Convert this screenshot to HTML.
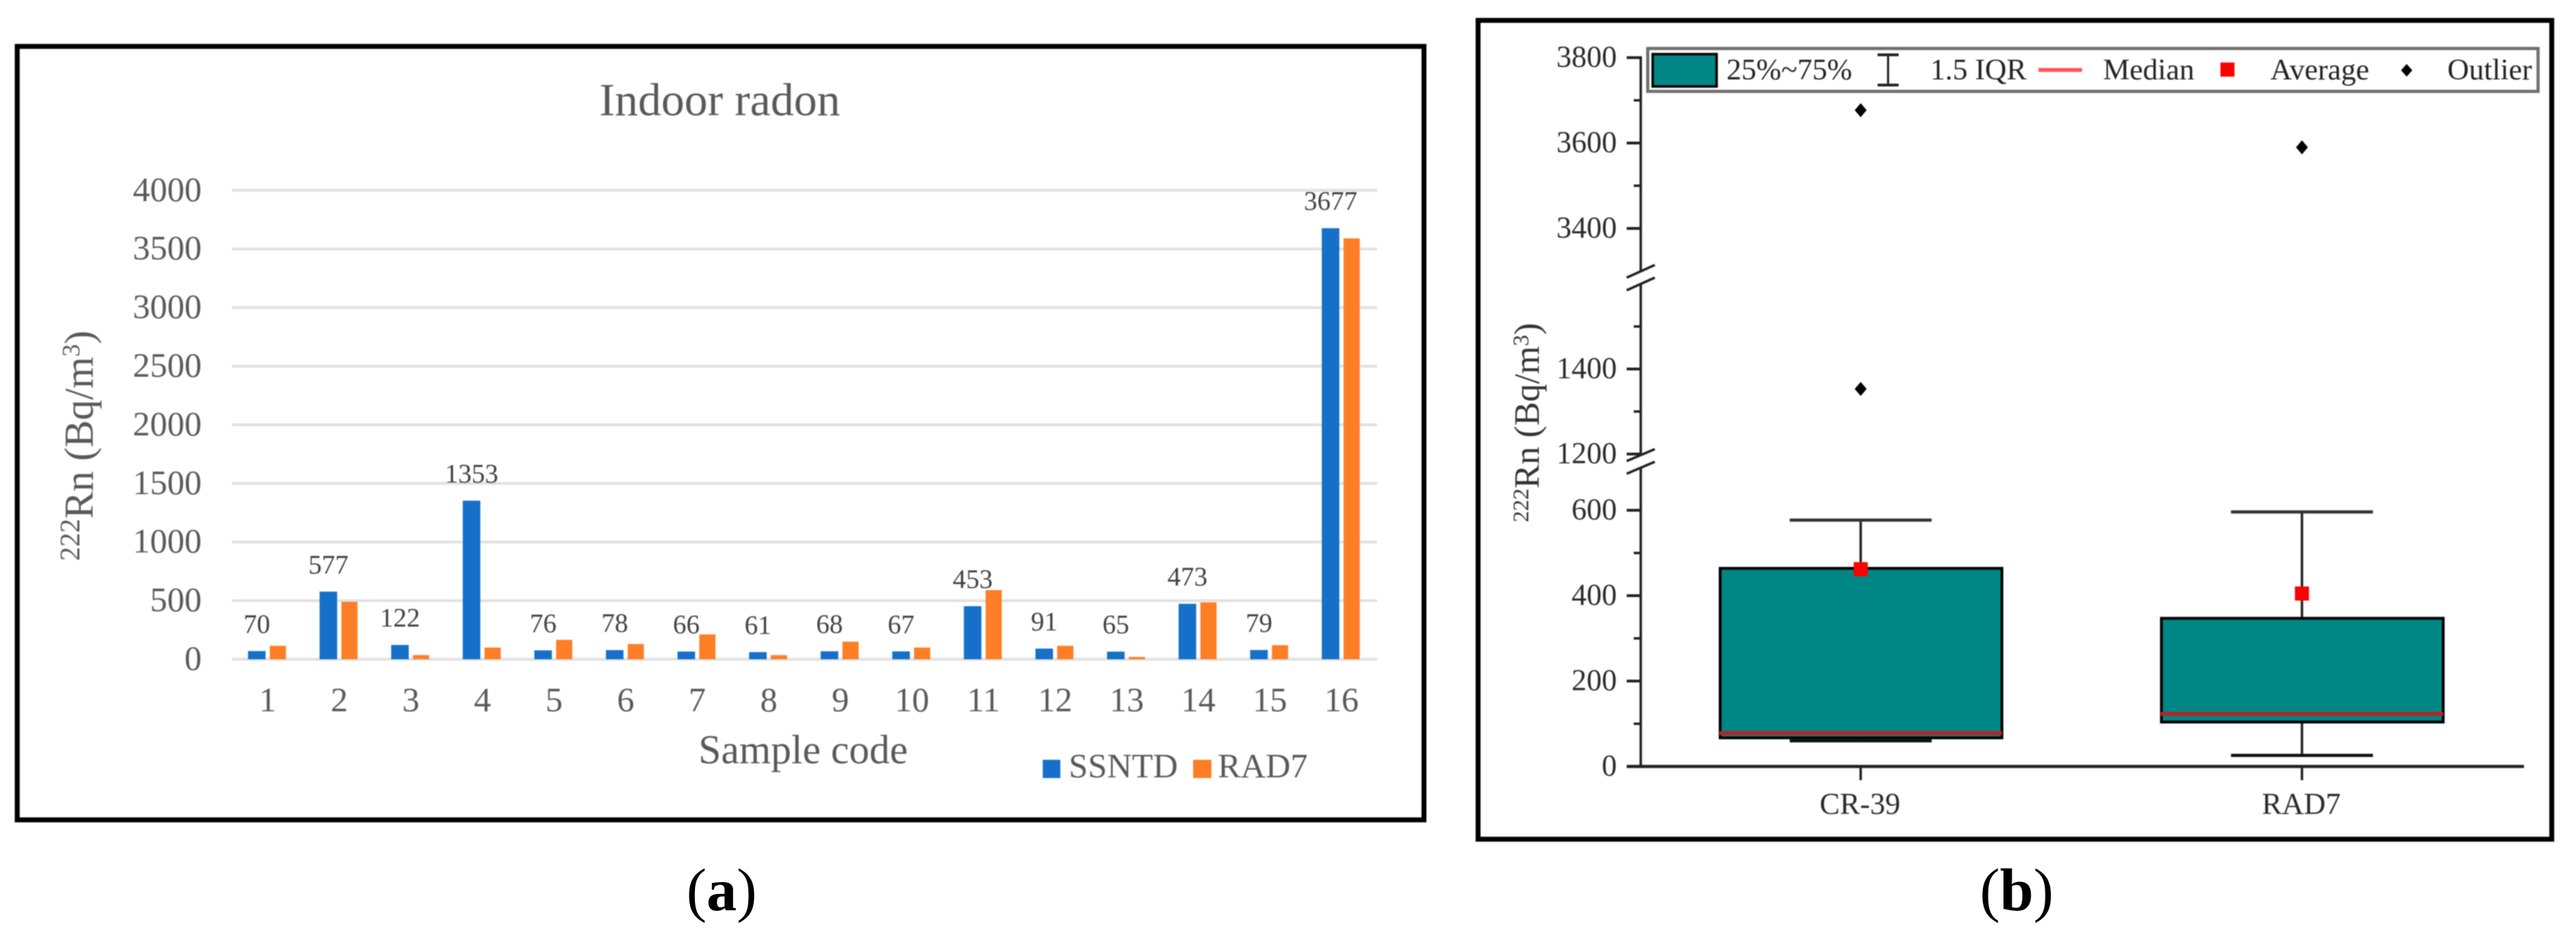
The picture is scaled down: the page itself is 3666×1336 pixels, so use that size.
<!DOCTYPE html>
<html lang="en">
<head>
<meta charset="utf-8">
<title>Indoor radon charts</title>
<style>
  html, body { margin: 0; padding: 0; background: #fff; }
  svg { display: block; }
  #soft { filter: blur(0.8px); }
  text { font-family: "Liberation Serif", serif; }
</style>
</head>
<body>
<svg id="fig" xmlns="http://www.w3.org/2000/svg" width="3666" height="1336" viewBox="0 0 3666 1336">
  <rect x="0" y="0" width="3666" height="1336" fill="#fff"/>
  <g id="soft">
  <rect x="0" y="0" width="3666" height="1336" fill="#fff"/>

  <!-- Panel a -->
  <rect x="24.5" y="66" width="2002" height="1100.5" fill="#fff" stroke="#000" stroke-width="7"/>
  <text x="853" y="164" font-size="66" fill="#595959">Indoor radon</text>
  <g id="a-grid"></g>
  <g id="a-bars"></g>
  <g id="a-labels"></g>
  <g id="a-xticks"></g>
  <text x="994" y="1086" font-size="58" fill="#595959">Sample code</text>
  <text transform="translate(132,798) rotate(-90)" font-size="58" fill="#595959"><tspan font-size="40" dy="-19">222</tspan><tspan dy="19">Rn (Bq/m</tspan><tspan font-size="36" dy="-19">3</tspan><tspan dy="19">)</tspan></text>
  <g>
    <rect x="1484" y="1081" width="25" height="26" fill="#1670c9"/>
    <text x="1521" y="1106" font-size="49" fill="#595959">SSNTD</text>
    <rect x="1698" y="1081" width="26" height="26" fill="#fd7e25"/>
    <text x="1733" y="1106" font-size="49" fill="#595959">RAD7</text>
  </g>

  <!-- Panel b -->
  <rect x="2103.5" y="29" width="1528" height="1165" fill="#fff" stroke="#000" stroke-width="7"/>
  <g id="b-axis"></g>
  <g id="b-boxes"></g>
  <text transform="translate(2190,743) rotate(-90)" font-size="51" fill="#333"><tspan font-size="32" dy="-15">222</tspan><tspan dy="15">Rn (Bq/m</tspan><tspan font-size="32" dy="-15">3</tspan><tspan dy="15">)</tspan></text>

  <g>
    <rect x="2345" y="69" width="1267" height="61" fill="#fff" stroke="#6e6e6e" stroke-width="4.5"/>
    <rect x="2352" y="77" width="91" height="46" fill="#008785" stroke="#000" stroke-width="3.5"/>
    <text x="2457" y="113" font-size="42.5" fill="#222">25%~75%</text>
    <g stroke="#222" fill="none">
      <line x1="2687" y1="78" x2="2687" y2="121" stroke-width="3"/>
      <line x1="2672" y1="78" x2="2702" y2="78" stroke-width="4"/>
      <line x1="2672" y1="121" x2="2702" y2="121" stroke-width="4"/>
    </g>
    <text x="2747" y="113" font-size="42.5" fill="#222">1.5 IQR</text>
    <line x1="2901" y1="99.5" x2="2963" y2="99.5" stroke="#ff5257" stroke-width="5.5"/>
    <text x="2993" y="113" font-size="42.5" fill="#222">Median</text>
    <rect x="3160" y="89" width="20" height="20" fill="#f00"/>
    <text x="3231" y="113" font-size="42.5" fill="#222">Average</text>
    <path d="M3425 91 L3433 100 L3425 109 L3417 100 Z" fill="#000"/>
    <text x="3483" y="113" font-size="42.5" fill="#222">Outlier</text>
  </g>
  </g>

  <text x="1027" y="1295" font-size="86" text-anchor="middle" fill="#000">(<tspan font-weight="bold">a</tspan>)</text>
  <text x="2870" y="1295" font-size="86" text-anchor="middle" fill="#000">(<tspan font-weight="bold">b</tspan>)</text>
</svg>

<script>
// ----- Panel (a) data -----
const sampleCodes = ['1','2','3','4','5','6','7','8','9','10','11','12','13','14','15','16'];
const ssntdValues = [70,577,122,1353,76,78,66,61,68,67,453,91,65,473,79,3677];
const rad7Values = [115,490,36,100,166,130,212,35,150,100,590,115,20,485,120,3590];
const yTicksA = [0,500,1000,1500,2000,2500,3000,3500,4000];

// ----- Panel (b) data -----
const boxCategories = ['CR-39','RAD7'];
const boxQ1 = [67,104];
const boxQ3 = [464,347];
const boxMedian = [78,123];
const boxMean = [462,405];
const whiskerLow = [60,26];
const whiskerHigh = [577,596];
const outliersCr39 = [1353,3677];
const outliersRad7 = [3590];
const yMajorTicksB = [0,200,400,600,1200,1400,3400,3600,3800];
const yMinorTicksB = [100,300,500,1300,1500,3500,3700];

const NS = 'http://www.w3.org/2000/svg';
function mk(tag, parent, attrs, txt) {
  const e = document.createElementNS(NS, tag);
  for (const k in attrs) e.setAttribute(k, attrs[k]);
  if (txt !== undefined) e.textContent = txt;
  parent.appendChild(e);
  return e;
}

// ----- Panel (a) scales -----
const aLeft = 330, aRight = 1960, aZero = 938, aPerUnit = 83.4 / 500;
function yA(v) { return aZero - v * aPerUnit; }
function xA(i) { return aLeft + (i + 0.5) * (aRight - aLeft) / sampleCodes.length; }

const aGrid = document.getElementById('a-grid');
yTicksA.forEach(function (t) {
  const line = mk('line', aGrid, { x1: aLeft, x2: aRight, y1: yA(t), y2: yA(t), stroke: '#e1e1e1', 'stroke-width': 4 });
  
  
  const lab = mk('text', aGrid, { x: 287, y: yA(t) + 15, 'font-size': 49, 'text-anchor': 'end', fill: '#595959' }, String(t));
  
  
});

const aBars = document.getElementById('a-bars');
const aLabels = document.getElementById('a-labels');
const aXT = document.getElementById('a-xticks');
sampleCodes.forEach(function (c, i) {
  const cx = xA(i);
  const b = mk('rect', aBars, { x: cx - 28, y: yA(ssntdValues[i]), width: 25, height: ssntdValues[i] * aPerUnit, fill: '#1670c9' });
  
  
  const o = mk('rect', aBars, { x: cx + 3, y: yA(rad7Values[i]), width: 23, height: rad7Values[i] * aPerUnit, fill: '#fd7e25' });
  
  
  const l = mk('text', aLabels, { x: cx - 15.5, y: yA(ssntdValues[i]) - 26, 'font-size': 38, 'text-anchor': 'middle', fill: '#404040' }, String(ssntdValues[i]));
  
  
  const t = mk('text', aXT, { x: cx, y: 1012, 'font-size': 49, 'text-anchor': 'middle', fill: '#595959' }, c);
  
  
});

// ----- Panel (b) scales (broken y axis) -----
const bAxisX = 2335, bZero = 1090.5, bRate = 121.5 / 200;
function yB(v) {
  if (v <= 700) return bZero - v * bRate;
  if (v <= 2000) return 525 + (1400 - v) * 121 / 200;
  return 82 + (3800 - v) * bRate;
}
const bCenters = [2648, 3276];

const bAxis = document.getElementById('b-axis');
[[80, 386], [404, 648], [666, 1091]].forEach(function (s, i) {
  const seg = mk('line', bAxis, { x1: bAxisX, x2: bAxisX, y1: s[0], y2: s[1], stroke: '#222', 'stroke-width': 3.5 });
  
  
});
[[2315, 395, 2355, 377], [2315, 413, 2355, 395], [2315, 656, 2355, 639], [2315, 674, 2355, 657]].forEach(function (p, i) {
  const br = mk('line', bAxis, { x1: p[0], y1: p[1], x2: p[2], y2: p[3], stroke: '#222', 'stroke-width': 3.5 });
  
  
});
const xAxisB = mk('line', bAxis, { x1: 2315, x2: 3592, y1: bZero, y2: bZero, stroke: '#222', 'stroke-width': 4.5 });



yMajorTicksB.forEach(function (t) {
  const y = yB(t);
  const tk = mk('line', bAxis, { x1: 2315, x2: bAxisX, y1: y, y2: y, stroke: '#222', 'stroke-width': 4 });
  
  
  const lb = mk('text', bAxis, { x: 2301, y: y + 13, 'font-size': 43, 'text-anchor': 'end', fill: '#2a2a2a' }, String(t));
  
  
});
yMinorTicksB.forEach(function (t) {
  const y = yB(t);
  const tk = mk('line', bAxis, { x1: 2325, x2: bAxisX, y1: y, y2: y, stroke: '#222', 'stroke-width': 3.5 });
  
  
});

const bBoxes = document.getElementById('b-boxes');
boxCategories.forEach(function (c, i) {
  const cx = bCenters[i], key = c.toLowerCase();
  const st = mk('line', bBoxes, { x1: cx, x2: cx, y1: yB(whiskerHigh[i]), y2: yB(whiskerLow[i]), stroke: '#222', 'stroke-width': 3.5 });
  
  
  const hi = mk('line', bBoxes, { x1: cx - 101, x2: cx + 101, y1: yB(whiskerHigh[i]), y2: yB(whiskerHigh[i]), stroke: '#333', 'stroke-width': 4.5 });
  
  
  const lo = mk('line', bBoxes, { x1: cx - 101, x2: cx + 101, y1: yB(whiskerLow[i]), y2: yB(whiskerLow[i]), stroke: '#111', 'stroke-width': 4.5 });
  
  
  const bx = mk('rect', bBoxes, { x: cx - 200, y: yB(boxQ3[i]), width: 401, height: yB(boxQ1[i]) - yB(boxQ3[i]), fill: '#008785', stroke: '#000', 'stroke-width': 4 });
  
  
  const md = mk('line', bBoxes, { x1: cx - 201, x2: cx + 201, y1: yB(boxMedian[i]), y2: yB(boxMedian[i]), stroke: '#b0252a', 'stroke-width': 6 });
  
  
  const av = mk('rect', bBoxes, { x: cx - 10, y: yB(boxMean[i]) - 10, width: 20, height: 20, fill: '#f00' });
  
  
  const xt = mk('line', bBoxes, { x1: cx, x2: cx, y1: bZero, y2: 1110, stroke: '#222', 'stroke-width': 3.5 });
  
  
  const xl = mk('text', bBoxes, { x: cx - 1, y: 1158, 'font-size': 43, 'text-anchor': 'middle', fill: '#2a2a2a' }, c);
  
  
});

function drawOutliers(values, cx, key) {
  values.forEach(function (v) {
    const y = yB(v);
    const d = mk('path', bBoxes, { d: 'M' + cx + ' ' + (y - 10) + ' L' + (cx + 8.5) + ' ' + y + ' L' + cx + ' ' + (y + 10) + ' L' + (cx - 8.5) + ' ' + y + ' Z', fill: '#000' });
    
    
  });
}
drawOutliers(outliersCr39, bCenters[0], 'cr-39');
drawOutliers(outliersRad7, bCenters[1], 'rad7');
</script>
</body>
</html>
